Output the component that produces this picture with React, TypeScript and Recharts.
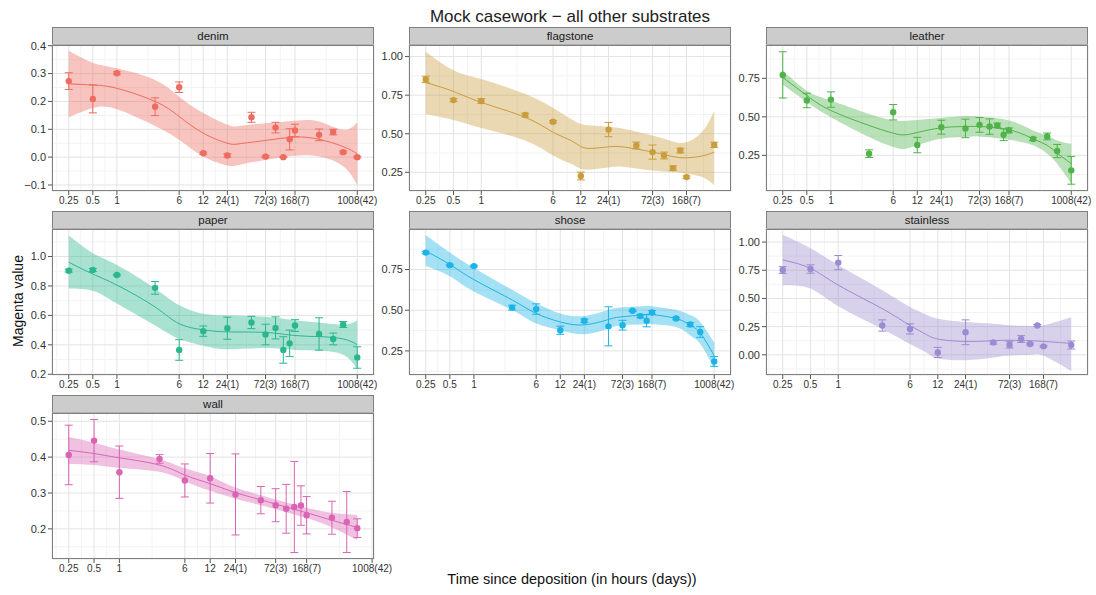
import React from 'react';
import { ComposedChart, Line, Area, Scatter, ErrorBar, XAxis, YAxis, CartesianGrid } from 'recharts';

// sampling times (hours)
const T17 = [0.25, 0.5, 1, 3, 6, 12, 24, 48, 72, 96, 120, 144, 168, 336, 504, 672, 1008];
const T16 = [0.25, 0.5, 1, 3, 6, 12, 24, 48, 72, 96, 120, 144, 168, 336, 504, 672];
const T14 = [0.25, 0.5, 1, 3, 6, 12, 24, 48, 72, 96, 120, 144, 168, 336];

const HOUR_TICKS = [0.25, 0.5, 1, 6, 12, 24, 72, 168, 1008];
const HOUR_LABELS = ['0.25', '0.5', '1', '6', '12', '24(1)', '72(3)', '168(7)', '1008(42)'];

// denim
const denimVal = [0.273, 0.209, 0.301, 0.181, 0.251, 0.014, 0.006, 0.143, 0.002, 0.106, 0.0, 0.064, 0.096, 0.08, 0.09, 0.018, 0.0];
const denimErr = [0.03, 0.05, 0.005, 0.032, 0.019, 0.004, 0.006, 0.018, 0.003, 0.019, 0.002, 0.038, 0.022, 0.021, 0.01, 0.004, 0.003];
const denimFitT = [0.25, 0.5, 1, 3, 6, 12, 24, 34, 72, 168, 336, 672, 1008];
const denimFit = [0.263, 0.259, 0.247, 0.2, 0.146, 0.086, 0.05, 0.048, 0.06, 0.072, 0.064, 0.038, 0.012];
const denimLo = [0.143, 0.176, 0.172, 0.112, 0.062, 0.002, -0.03, -0.027, -0.01, 0.005, 0.002, -0.033, -0.101];
const denimHi = [0.382, 0.339, 0.319, 0.277, 0.217, 0.158, 0.116, 0.112, 0.122, 0.131, 0.128, 0.098, 0.124];

// flagstone
const flagVal = [0.852, 0.718, 0.712, 0.621, 0.578, 0.226, 0.527, 0.424, 0.381, 0.359, 0.277, 0.391, 0.219, 0.428];
const flagErr = [0.021, 0.01, 0.015, 0.012, 0.008, 0.025, 0.046, 0.022, 0.046, 0.022, 0.015, 0.015, 0.008, 0.017];
const flagFitT = [0.25, 0.5, 1, 3, 6, 9.4, 12, 15.6, 24, 36, 72, 120, 168, 250, 336];
const flagFit = [0.832, 0.774, 0.703, 0.606, 0.51, 0.456, 0.417, 0.405, 0.415, 0.413, 0.381, 0.352, 0.344, 0.356, 0.381];
const flagLo = [0.628, 0.589, 0.538, 0.456, 0.359, 0.305, 0.273, 0.269, 0.282, 0.285, 0.262, 0.252, 0.241, 0.219, 0.166];
const flagHi = [1.032, 0.912, 0.854, 0.757, 0.667, 0.596, 0.563, 0.553, 0.545, 0.531, 0.488, 0.45, 0.445, 0.515, 0.649];

// leather
const leatherVal = [0.772, 0.606, 0.612, 0.261, 0.53, 0.317, 0.433, 0.425, 0.448, 0.437, 0.444, 0.384, 0.412, 0.356, 0.373, 0.278, 0.153];
const leatherErr = [0.15, 0.047, 0.05, 0.025, 0.05, 0.05, 0.045, 0.06, 0.048, 0.05, 0.015, 0.038, 0.016, 0.01, 0.022, 0.043, 0.09];
const leatherFitT = [0.25, 0.5, 1, 3, 6, 8.2, 12, 24, 48, 72, 168, 336, 504, 672, 1008];
const leatherFit = [0.756, 0.638, 0.541, 0.444, 0.394, 0.383, 0.398, 0.429, 0.437, 0.437, 0.416, 0.358, 0.315, 0.265, 0.196];
const leatherLo = [0.709, 0.595, 0.498, 0.369, 0.304, 0.292, 0.316, 0.358, 0.369, 0.373, 0.351, 0.315, 0.261, 0.196, 0.067];
const leatherHi = [0.8, 0.67, 0.606, 0.519, 0.478, 0.474, 0.48, 0.493, 0.505, 0.5, 0.476, 0.412, 0.379, 0.347, 0.325];

// paper
const paperVal = [0.904, 0.909, 0.874, 0.787, 0.365, 0.493, 0.513, 0.552, 0.47, 0.515, 0.365, 0.41, 0.531, 0.474, 0.44, 0.538, 0.314];
const paperErr = [0.01, 0.01, 0.005, 0.043, 0.07, 0.035, 0.075, 0.042, 0.07, 0.075, 0.09, 0.09, 0.04, 0.11, 0.04, 0.02, 0.073];
const paperFitT = [0.25, 0.5, 1, 3, 6, 12, 24, 72, 168, 336, 672, 1008];
const paperFit = [0.961, 0.881, 0.806, 0.657, 0.543, 0.502, 0.488, 0.484, 0.463, 0.456, 0.44, 0.401];
const paperLo = [0.783, 0.767, 0.68, 0.531, 0.44, 0.394, 0.37, 0.378, 0.365, 0.36, 0.333, 0.234];
const paperHi = [1.142, 1.023, 0.943, 0.783, 0.669, 0.611, 0.6, 0.59, 0.566, 0.552, 0.538, 0.566];

// shose
const shoseVal = [0.854, 0.777, 0.771, 0.516, 0.507, 0.377, 0.435, 0.401, 0.408, 0.497, 0.464, 0.435, 0.486, 0.449, 0.412, 0.366, 0.185];
const shoseErr = [0.008, 0.005, 0.005, 0.015, 0.032, 0.025, 0.01, 0.12, 0.03, 0.005, 0.01, 0.037, 0.012, 0.008, 0.012, 0.033, 0.03];
const shoseFitT = [0.25, 0.5, 1, 3, 6, 12, 24, 48, 72, 144, 168, 336, 504, 672, 1008];
const shoseFit = [0.864, 0.781, 0.688, 0.563, 0.48, 0.428, 0.41, 0.443, 0.46, 0.474, 0.474, 0.449, 0.408, 0.36, 0.22];
const shoseLo = [0.771, 0.709, 0.615, 0.501, 0.418, 0.377, 0.352, 0.387, 0.408, 0.414, 0.414, 0.397, 0.345, 0.294, 0.14];
const shoseHi = [0.962, 0.854, 0.76, 0.626, 0.543, 0.48, 0.465, 0.501, 0.518, 0.526, 0.524, 0.501, 0.47, 0.428, 0.3];

// stainless
const stainVal = [0.752, 0.761, 0.818, 0.26, 0.23, 0.021, 0.2, 0.11, 0.09, 0.14, 0.096, 0.26, 0.075, 0.087];
const stainErr = [0.03, 0.037, 0.063, 0.05, 0.045, 0.045, 0.11, 0.015, 0.03, 0.03, 0.008, 0.008, 0.008, 0.035];
const stainFitT = [0.25, 0.5, 1, 3, 6, 8.8, 12, 24, 48, 72, 120, 168, 336];
const stainFit = [0.842, 0.767, 0.618, 0.409, 0.26, 0.185, 0.14, 0.119, 0.125, 0.129, 0.125, 0.119, 0.101];
const stainLo = [0.618, 0.588, 0.43, 0.23, 0.096, 0.025, -0.03, -0.048, -0.024, -0.005, 0.0, -0.009, -0.143];
const stainHi = [1.066, 0.946, 0.797, 0.573, 0.424, 0.36, 0.319, 0.29, 0.275, 0.262, 0.255, 0.262, 0.334];

// wall
const wallVal = [0.406, 0.446, 0.358, 0.395, 0.335, 0.341, 0.296, 0.28, 0.266, 0.256, 0.261, 0.265, 0.238, 0.231, 0.219, 0.202];
const wallErr = [0.083, 0.059, 0.073, 0.012, 0.046, 0.069, 0.113, 0.038, 0.046, 0.068, 0.127, 0.055, 0.052, 0.046, 0.085, 0.026];
const wallFitT = [0.25, 0.5, 1, 3, 6, 12, 24, 48, 72, 168, 336, 672];
const wallFit = [0.419, 0.41, 0.398, 0.378, 0.35, 0.326, 0.301, 0.281, 0.269, 0.245, 0.224, 0.204];
const wallLo = [0.381, 0.378, 0.37, 0.359, 0.333, 0.306, 0.284, 0.266, 0.255, 0.23, 0.204, 0.169];
const wallHi = [0.456, 0.44, 0.421, 0.394, 0.369, 0.347, 0.315, 0.294, 0.282, 0.259, 0.245, 0.239];

const FONT = '"Liberation Sans", Arial, Helvetica, sans-serif';
const COL_X = [52, 409, 766];
const ROW_Y = [27, 211, 395];
const PLOT_W = 322;
const PLOT_H = 146;
const STRIP_H = 18;
const Y_AXIS_W = 40;
const RIGHT_PAD = 26;
const TOP_PAD = 8;

type PanelProps = {
  name: string;
  color: string;
  times: number[];
  vals: number[];
  errs: number[];
  fitT: number[];
  fit: number[];
  lo: number[];
  hi: number[];
  yDomain: [number, number];
  yTicks: number[];
  digits: number;
  col: number;
  row: number;
};

function minorLog(ticks: number[], dom: [number, number]) {
  const l = ticks.map((t) => Math.log2(t));
  if (l.length < 2) return [];
  const ext = [2 * l[0] - l[1], ...l, 2 * l[l.length - 1] - l[l.length - 2]];
  const out: number[] = [];
  for (let i = 0; i < ext.length - 1; i++) out.push(Math.pow(2, (ext[i] + ext[i + 1]) / 2));
  return out.filter((v) => v > dom[0] && v < dom[1]);
}

function minorLin(ticks: number[], dom: [number, number]) {
  const step = ticks[1] - ticks[0];
  const out: number[] = [];
  for (let v = ticks[0] - step / 2; v < dom[1]; v += step) if (v > dom[0]) out.push(v);
  return out;
}

function Panel(p: PanelProps) {
  const pts = p.times.map((t, i) => ({ t, v: p.vals[i], e: p.errs[i] }));
  const curve = p.fitT.map((t, i) => ({ t, fit: p.fit[i], band: [p.lo[i], p.hi[i]] }));
  const l0 = Math.log2(p.times[0]);
  const l1 = Math.log2(p.times[p.times.length - 1]);
  const pad = (l1 - l0) * 0.058;
  const xDom: [number, number] = [Math.pow(2, l0 - pad), Math.pow(2, l1 + pad)];
  const xTicks = HOUR_TICKS.filter((t) => t >= xDom[0] && t <= xDom[1]);
  const left = COL_X[p.col];
  const top = ROW_Y[p.row];
  const fmtY = (v: number) => (v < 0 ? '\u2212' : '') + Math.abs(v).toFixed(p.digits);
  const fmtX = (v: number) => HOUR_LABELS[HOUR_TICKS.indexOf(v)] ?? String(v);

  return (
    <>
      <div
        style={{
          position: 'absolute', left, top, width: PLOT_W, height: STRIP_H, boxSizing: 'border-box',
          background: '#cccccc', border: '1px solid #7f7f7f', textAlign: 'center',
          fontSize: 11.5, lineHeight: `${STRIP_H - 2}px`, color: '#1a1a1a', fontFamily: FONT,
        }}
      >
        {p.name}
      </div>
      <div style={{ position: 'absolute', left: left - Y_AXIS_W, top: top + STRIP_H - TOP_PAD }}>
        <ComposedChart
          width={Y_AXIS_W + PLOT_W + RIGHT_PAD}
          height={PLOT_H + 22 + TOP_PAD}
          margin={{ top: TOP_PAD, right: RIGHT_PAD, bottom: 0, left: 0 }}
          style={{ fontFamily: FONT }}
        >
          <CartesianGrid stroke="#f3f3f3" verticalValues={minorLog(xTicks, xDom)} horizontalValues={minorLin(p.yTicks, p.yDomain)} />
          <CartesianGrid stroke="#e3e3e3" />
          <XAxis
            dataKey="t" type="number" scale="log" domain={xDom} ticks={xTicks} allowDataOverflow interval={0}
            tickFormatter={fmtX} axisLine={false} tickSize={4} tickMargin={2} height={22}
            tick={{ fontSize: 10, fill: '#333' }} tickLine={{ stroke: '#555' }}
          />
          <YAxis
            type="number" domain={p.yDomain} ticks={p.yTicks} allowDataOverflow interval={0}
            tickFormatter={fmtY} axisLine={false} tickSize={4} tickMargin={2} width={Y_AXIS_W}
            tick={{ fontSize: 11, fill: '#333' }} tickLine={{ stroke: '#555' }}
          />
          <Area data={curve} dataKey="band" type="natural" stroke="none" fill={p.color} fillOpacity={0.4} isAnimationActive={false} activeDot={false} />
          <Line data={curve} dataKey="fit" type="natural" stroke={p.color} strokeWidth={1} dot={false} activeDot={false} isAnimationActive={false} />
          <Scatter
            data={pts} dataKey="v" fill={p.color} isAnimationActive={false}
            shape={(s: any) => <circle cx={s.cx} cy={s.cy} r={3.2} fill={p.color} />}
          >
            <ErrorBar dataKey="e" direction="y" width={4} stroke={p.color} strokeWidth={1} />
          </Scatter>
        </ComposedChart>
      </div>
      <div
        style={{
          position: 'absolute', left, top: top + STRIP_H, width: PLOT_W, height: PLOT_H,
          boxSizing: 'border-box', border: '1px solid #7f7f7f', pointerEvents: 'none',
        }}
      />
    </>
  );
}

export default function App() {
  return (
    <div style={{ position: 'absolute', left: 0, top: 0, width: 1096, height: 595, background: '#fff', fontFamily: FONT, overflow: 'hidden' }}>
      <div style={{ position: 'absolute', left: 570, top: 17, transform: 'translate(-50%, -50%)', fontSize: 17, color: '#222', whiteSpace: 'nowrap' }}>
        Mock casework − all other substrates
      </div>
      <Panel name="denim" color="#ee6b60" times={T17} vals={denimVal} errs={denimErr} fitT={denimFitT} fit={denimFit} lo={denimLo} hi={denimHi}
        yDomain={[-0.1215, 0.4025]} yTicks={[-0.1, 0, 0.1, 0.2, 0.3, 0.4]} digits={1} col={0} row={0} />
      <Panel name="flagstone" color="#c99d3c" times={T14} vals={flagVal} errs={flagErr} fitT={flagFitT} fit={flagFit} lo={flagLo} hi={flagHi}
        yDomain={[0.129, 1.075]} yTicks={[0.25, 0.5, 0.75, 1.0]} digits={2} col={1} row={0} />
      <Panel name="leather" color="#4fb34a" times={T17} vals={leatherVal} errs={leatherErr} fitT={leatherFitT} fit={leatherFit} lo={leatherLo} hi={leatherHi}
        yDomain={[0.019, 0.966]} yTicks={[0.25, 0.5, 0.75]} digits={2} col={2} row={0} />
      <Panel name="paper" color="#2bb78e" times={T17} vals={paperVal} errs={paperErr} fitT={paperFitT} fit={paperFit} lo={paperLo} hi={paperHi}
        yDomain={[0.195, 1.187]} yTicks={[0.2, 0.4, 0.6, 0.8, 1.0]} digits={1} col={0} row={1} />
      <Panel name="shose" color="#1cb4e6" times={T17} vals={shoseVal} errs={shoseErr} fitT={shoseFitT} fit={shoseFit} lo={shoseLo} hi={shoseHi}
        yDomain={[0.102, 0.999]} yTicks={[0.25, 0.5, 0.75]} digits={2} col={1} row={1} />
      <Panel name="stainless" color="#9c8bd0" times={T14} vals={stainVal} errs={stainErr} fitT={stainFitT} fit={stainFit} lo={stainLo} hi={stainHi}
        yDomain={[-0.179, 1.116]} yTicks={[0, 0.25, 0.5, 0.75, 1.0]} digits={2} col={2} row={1} />
      <Panel name="wall" color="#d964b4" times={T16} vals={wallVal} errs={wallErr} fitT={wallFitT} fit={wallFit} lo={wallLo} hi={wallHi}
        yDomain={[0.116, 0.523]} yTicks={[0.2, 0.3, 0.4, 0.5]} digits={1} col={0} row={2} />
      <div style={{ position: 'absolute', left: 18, top: 301, transform: 'translate(-50%, -50%) rotate(-90deg)', fontSize: 14, color: '#111', whiteSpace: 'nowrap' }}>
        Magenta value
      </div>
      <div style={{ position: 'absolute', left: 572, top: 579, transform: 'translate(-50%, -50%)', fontSize: 14.5, color: '#111', whiteSpace: 'nowrap' }}>
        Time since deposition (in hours (days))
      </div>
    </div>
  );
}
